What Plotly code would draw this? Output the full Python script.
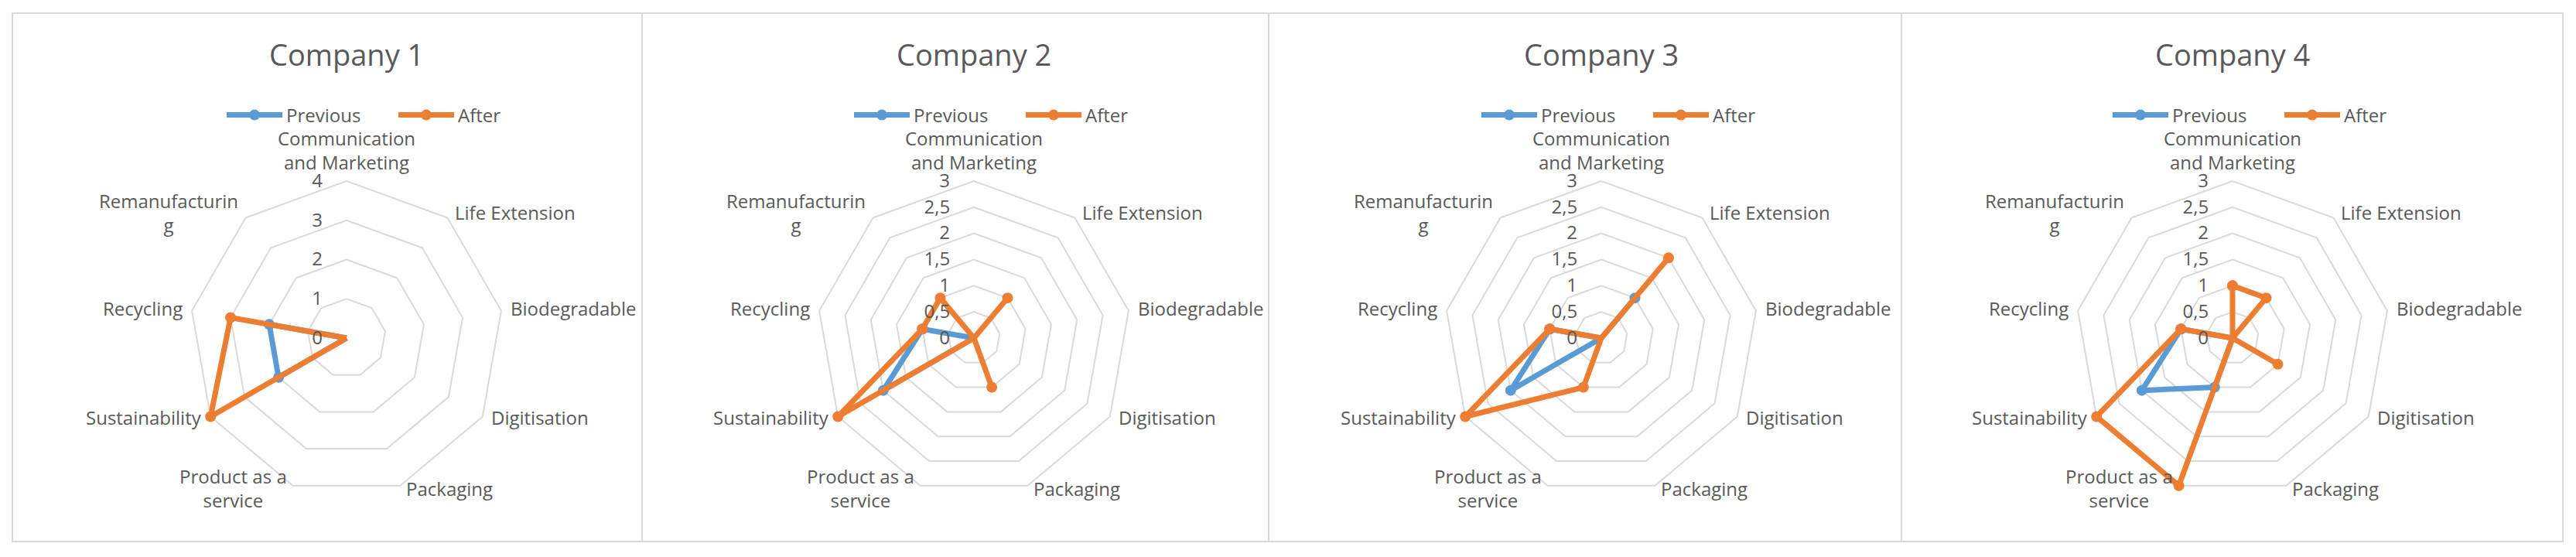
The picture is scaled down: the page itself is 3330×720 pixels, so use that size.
import math
import plotly.graph_objects as go

# ---------------- data ----------------
categories = ["Communication<br>and Marketing", "Life Extension", "Biodegradable",
              "Digitisation", "Packaging", "Product as a<br>service",
              "Sustainability", "Recycling", "Remanufacturin<br>g"]
companies = ["Company 1", "Company 2", "Company 3", "Company 4"]
series_names = ["Previous", "After"]

previous_1 = [0, 0, 0, 0, 0, 0, 2, 2, 0]
after_1 = [0, 0, 0, 0, 0, 0, 4, 3, 0]
previous_2 = [0, 0, 0, 0, 0, 0, 2, 1, 0]
after_2 = [0, 1, 0, 0, 1, 0, 3, 1, 1]
previous_3 = [0, 1, 0, 0, 0, 0, 2, 1, 0]
after_3 = [0, 2, 0, 0, 0, 1, 3, 1, 0]
previous_4 = [0, 0, 0, 0, 0, 1, 2, 1, 0]
after_4 = [1, 1, 0, 1, 0, 3, 3, 1, 0]

radial_max = [4, 3, 3, 3]
radial_step = [1, 0.5, 0.5, 0.5]

previous_all = [previous_1, previous_2, previous_3, previous_4]
after_all = [after_1, after_2, after_3, after_4]

# ---------------- layout / style ----------------
PAGE_W, PAGE_H = 3330, 720
BODY = 8                       # default browser body margin around the figure
W, H = PAGE_W - BODY, PAGE_H - BODY


def px(x):
    return (x - BODY) / W


def py(y):
    return 1 - (y - BODY) / H


centers_x = [448, 1259, 2070, 2886]
center_y = 437
R = 203                 # pixel radius of the outermost grid ring
PAD = 1.03              # headroom so thick lines on the outer ring are not clipped
frame_x = [16, 830, 1640, 2458, 3313]
frame_top, frame_bottom = 17, 700
title_y = 70
legend_y = 149
legend_left_offset = 160    # legend start, left of the panel centre
label_gap = 6

BLUE = "#5B9BD5"
ORANGE = "#ED7D31"
GRID = "#D9D9D9"
TEXT = "#595959"
FONT = "Open Sans"

fig = go.Figure()

n = len(categories)
theta = categories + [categories[0]]
for i in range(4):
    polar_id = "polar" if i == 0 else f"polar{i+1}"
    leg = "legend" if i == 0 else f"legend{i+1}"
    for name, vals, color in [(series_names[0], previous_all[i], BLUE),
                              (series_names[1], after_all[i], ORANGE)]:
        fig.add_trace(go.Scatterpolar(
            r=vals + [vals[0]], theta=theta, name=name, mode="lines+markers",
            line=dict(color=color, width=7), marker=dict(color=color, size=14),
            subplot=polar_id, legend=leg, showlegend=True, cliponaxis=False,
        ))

    cx = centers_x[i]
    Rd = R * PAD
    fig.layout[polar_id] = dict(
        domain=dict(x=[px(cx - Rd), px(cx + Rd)],
                    y=[py(center_y + Rd), py(center_y - Rd)]),
        gridshape="linear",
        bgcolor="rgba(0,0,0,0)",
        radialaxis=dict(
            range=[0, radial_max[i] * PAD], dtick=radial_step[i], tick0=0,
            angle=90, tickangle=90, showline=False, gridcolor=GRID, gridwidth=2,
            tickfont=dict(size=24, color=TEXT, family=FONT),
            ticks="outside", ticklen=22, tickcolor="rgba(0,0,0,0)",
            side="counterclockwise",
        ),
        angularaxis=dict(
            direction="clockwise", rotation=90, showgrid=False,
            showline=False, ticks="", showticklabels=False,
        ),
    )
    fig.layout[leg] = dict(
        orientation="h", x=px(cx - legend_left_offset), xanchor="left",
        y=py(legend_y), yanchor="middle",
        font=dict(size=24, color=TEXT, family=FONT),
        bgcolor="rgba(0,0,0,0)", itemwidth=72, tracegroupgap=0,
        entrywidth=135, entrywidthmode="pixels",
    )
    fig.add_annotation(
        text=companies[i], x=px(cx), y=py(title_y), xref="paper", yref="paper",
        showarrow=False, font=dict(size=38, color=TEXT, family=FONT),
        xanchor="center", yanchor="middle",
    )
    # category labels placed next to the outer ring vertices (Excel-like)
    for k, lab in enumerate(categories):
        a = math.radians(360 / n * k)
        vx = cx + R * math.sin(a)
        vy = center_y - R * math.cos(a)
        if k == 0:
            ax, ay, xa, ya = vx, vy - 6, "center", "bottom"
        else:
            ax = vx + label_gap * math.sin(a) + (4 if math.sin(a) > 0 else -4)
            ay = vy - label_gap * math.cos(a) - 2
            xa = "left" if math.sin(a) > 0 else "right"
            ya = "middle"
        fig.add_annotation(
            text=lab, x=px(ax), y=py(ay), xref="paper", yref="paper",
            showarrow=False, font=dict(size=24, color=TEXT, family=FONT),
            xanchor=xa, yanchor=ya, align="center",
        )

for i in range(4):
    fig.add_shape(type="rect", xref="paper", yref="paper",
                  x0=px(frame_x[i]), x1=px(frame_x[i + 1]),
                  y0=py(frame_bottom), y1=py(frame_top),
                  line=dict(color=GRID, width=2), layer="below")

fig.update_layout(
    width=W, height=H, autosize=False,
    margin=dict(l=0, r=0, t=0, b=0),
    paper_bgcolor="white", plot_bgcolor="white",
    separators=",.",
    font=dict(family=FONT, color=TEXT),
)

fig.write_html("out.html")
